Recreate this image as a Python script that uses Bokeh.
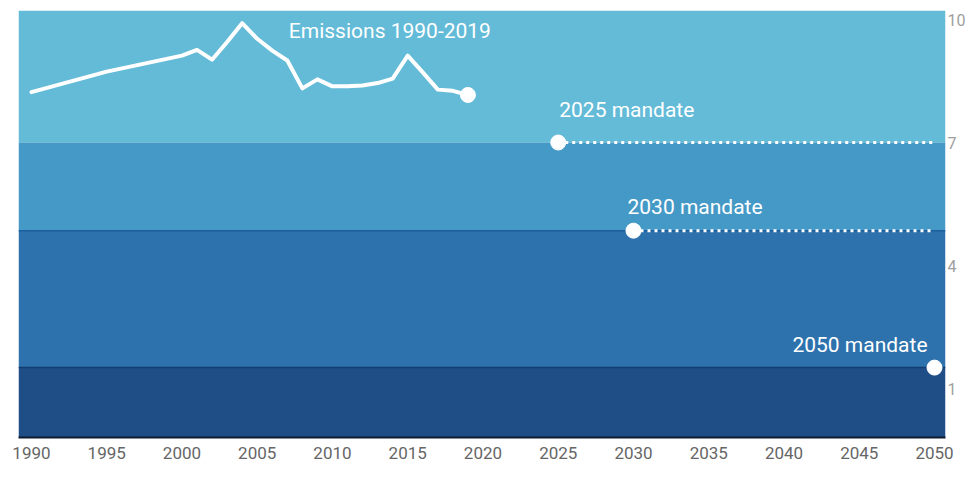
from bokeh.plotting import figure
from bokeh.models import BoxAnnotation, Span, Label, Range1d, FixedTicker
from bokeh.embed import file_html
from bokeh.resources import INLINE

# ---------------- data ----------------
years = [1990, 1995, 2000, 2001, 2002, 2003, 2004, 2005, 2006, 2007, 2008, 2009,
         2010, 2011, 2012, 2013, 2014, 2015, 2016, 2017, 2018, 2019]
emissions = [8.23, 8.73, 9.12, 9.26, 9.02, 9.45, 9.91, 9.53, 9.24, 9.00, 8.32, 8.54,
             8.37, 8.37, 8.39, 8.45, 8.56, 9.12, 8.71, 8.29, 8.26, 8.16]

mandate_years = [2025, 2030, 2050]
mandate_values = [7.0, 4.85, 1.51]
mandate_labels = ["2025 mandate", "2030 mandate", "2050 mandate"]
emissions_label = "Emissions 1990-2019"

x_ticks = list(range(1990, 2051, 5))
y_ticks = [1, 4, 7, 10]

# ---------------- styles ----------------
band_colors = ["#63BBD8", "#4599C6", "#2D72AD", "#1F4D86"]
boundary_colors = ["#1C5E9E", "#123C72"]
label_styles = [  # (align, x_offset, y_offset)
    ("left", 1, 33),
    ("left", -6, 24),
    ("right", -7, 23),
]
FONT = "Roboto"

p = figure(width=968, height=478,
           x_range=Range1d(1989.14, 2050.73), y_range=Range1d(-0.195, 10.22),
           output_backend="svg", toolbar_location=None,
           y_axis_location="right",
           min_border_left=18, min_border_right=18,
           min_border_top=10, min_border_bottom=41)

p.outline_line_color = None
p.grid.visible = False
p.background_fill_color = "white"
p.border_fill_color = "white"

# bands between mandate levels
edges = [None] + mandate_values + [None]
for i, col in enumerate(band_colors):
    kw = {}
    if edges[i] is not None:
        kw["top"] = edges[i]
    if edges[i + 1] is not None:
        kw["bottom"] = edges[i + 1]
    p.add_layout(BoxAnnotation(fill_color=col, fill_alpha=1.0, line_color=None,
                               level="underlay", **kw))

for v, c in zip(mandate_values[1:], boundary_colors):
    p.add_layout(Span(location=v, dimension="width", line_color=c,
                      line_width=1.5, level="underlay"))

# dotted mandate lines to final year
p.segment(x0=mandate_years[:-1], y0=mandate_values[:-1],
          x1=[mandate_years[-1]] * (len(mandate_years) - 1), y1=mandate_values[:-1],
          line_color="white", line_width=3, line_dash="3 4")

# emissions line
p.line(years, emissions, line_color="white", line_width=4, line_join="round",
       line_cap="round")
p.scatter(x=[years[-1]], y=[emissions[-1]], size=15, fill_color="white",
          line_color="white")

# mandate points
p.scatter(x=mandate_years, y=mandate_values, size=15, fill_color="white",
          line_color="white")

for xv, yv, txt, (al, xo, yo) in zip(mandate_years, mandate_values, mandate_labels,
                                     label_styles):
    p.add_layout(Label(x=xv, y=yv, text=txt, x_offset=xo, y_offset=yo,
                       text_align=al, text_baseline="middle",
                       text_color="white", text_font=FONT, text_font_size="21px"))

p.add_layout(Label(x=2007.1, y=9.71, text=emissions_label, text_align="left",
                   text_baseline="middle", text_color="white", text_font=FONT,
                   text_font_size="21px"))

# axes
xa = p.xaxis[0]
xa.ticker = FixedTicker(ticks=x_ticks)
xa.major_label_text_font = FONT
xa.major_label_text_font_size = "17px"
xa.major_label_text_color = "#666666"
xa.axis_line_color = "#0F1C2E"
xa.axis_line_width = 2
xa.major_tick_line_color = None
xa.minor_tick_line_color = None
xa.major_tick_out = 0
xa.major_tick_in = 0
xa.minor_tick_out = 0
xa.major_label_standoff = 9

ya = p.yaxis[0]
ya.ticker = FixedTicker(ticks=y_ticks)
ya.major_label_text_font = FONT
ya.major_label_text_font_size = "16px"
ya.major_label_text_color = "#9E9E9E"
ya.axis_line_color = None
ya.major_tick_line_color = None
ya.minor_tick_line_color = None
ya.major_tick_out = 0
ya.major_tick_in = 0
ya.minor_tick_out = 0
ya.major_label_standoff = 2

open("out.html", "w").write(file_html(p, INLINE))
